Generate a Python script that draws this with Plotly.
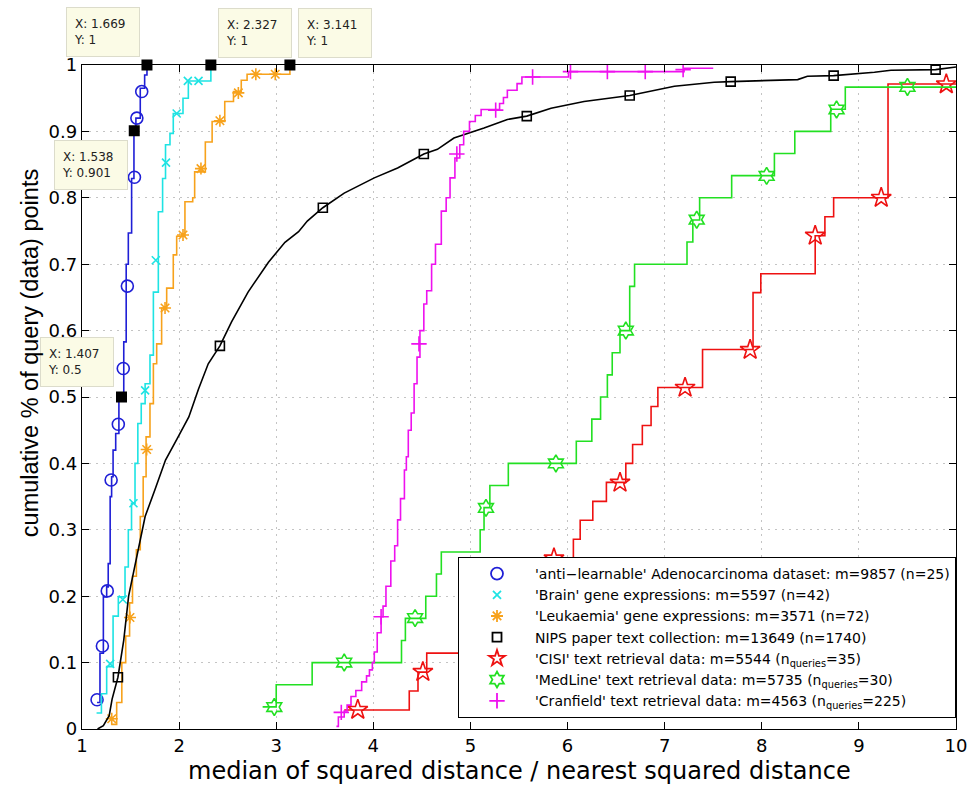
import plotly.graph_objects as go

# ---------------- data ----------------
adeno_x = [1.155, 1.185, 1.22, 1.254, 1.27, 1.29, 1.305, 1.32, 1.347, 1.38, 1.407, 1.43, 1.455,
           1.477, 1.511, 1.535, 1.555, 1.60, 1.645, 1.669]
adeno_y = [0.04, 0.114, 0.199, 0.214, 0.249, 0.35, 0.38, 0.42, 0.445, 0.495, 0.50, 0.583, 0.70,
           0.747, 0.829, 0.901, 0.92, 0.965, 0.985, 1.0]
adeno_mx = [1.155, 1.21, 1.26, 1.30, 1.374, 1.425, 1.467, 1.54, 1.565, 1.615]
adeno_my = [0.044, 0.125, 0.208, 0.375, 0.459, 0.543, 0.667, 0.831, 0.92, 0.96]

brain_x = [1.15, 1.20, 1.254, 1.32, 1.374, 1.443, 1.477, 1.51, 1.546, 1.575, 1.61, 1.65, 1.70,
           1.735, 1.786, 1.83, 1.86, 1.906, 1.94, 2.04, 2.095, 2.327]
brain_y = [0.024, 0.053, 0.094, 0.17, 0.199, 0.244, 0.30, 0.34, 0.40, 0.46, 0.49, 0.52, 0.563,
           0.658, 0.779, 0.829, 0.88, 0.897, 0.927, 0.95, 0.976, 1.0]
brain_mx = [1.29, 1.42, 1.53, 1.65, 1.76, 1.865, 1.975, 2.09, 2.20]
brain_my = [0.098, 0.195, 0.34, 0.51, 0.706, 0.853, 0.927, 0.976, 0.976]

leuk_x = [1.30, 1.357, 1.41, 1.45, 1.49, 1.52, 1.56, 1.60, 1.63, 1.66, 1.70, 1.735, 1.769, 1.82,
          1.872, 1.94, 1.975, 2.06, 2.14, 2.16, 2.27, 2.34, 2.47, 2.56, 2.64, 2.70, 3.141]
leuk_y = [0.007, 0.04, 0.10, 0.14, 0.19, 0.23, 0.27, 0.32, 0.38, 0.44, 0.49, 0.55, 0.58, 0.634,
          0.664, 0.714, 0.742, 0.794, 0.80, 0.839, 0.884, 0.915, 0.945, 0.96, 0.977, 0.986, 1.0]
leuk_mx = [1.306, 1.494, 1.666, 1.855, 2.04, 2.225, 2.42, 2.61, 2.79, 2.99]
leuk_my = [0.0155, 0.168, 0.421, 0.634, 0.744, 0.844, 0.916, 0.958, 0.986, 0.986]

nips_x = [1.16, 1.22, 1.28, 1.31, 1.37, 1.43, 1.48, 1.55, 1.65, 1.75, 1.86, 1.99, 2.10, 2.20,
          2.30, 2.42, 2.54, 2.71, 2.92, 3.09, 3.23, 3.32, 3.48, 3.70, 4.01, 4.25, 4.52, 4.66,
          4.83, 5.14, 5.38, 5.58, 5.83, 6.17, 6.64, 7.10, 7.51, 7.68, 8.37, 8.47, 8.74, 9.16,
          9.33, 9.79, 10.0]
nips_y = [0.0, 0.005, 0.02, 0.045, 0.078, 0.134, 0.20, 0.25, 0.32, 0.36, 0.405, 0.44, 0.47,
          0.512, 0.55, 0.577, 0.613, 0.658, 0.703, 0.733, 0.749, 0.765, 0.785, 0.807, 0.83,
          0.845, 0.866, 0.873, 0.89, 0.905, 0.918, 0.923, 0.935, 0.945, 0.954, 0.968, 0.974,
          0.975, 0.978, 0.983, 0.984, 0.989, 0.992, 0.993, 0.997]
nips_mx = [1.37, 2.42, 3.48, 4.52, 5.58, 6.64, 7.68, 8.74, 9.79]
nips_my = [0.078, 0.577, 0.785, 0.866, 0.923, 0.954, 0.975, 0.984, 0.993]

# sorted per-query ratios (35 CISI queries, 30 MedLine queries)
cisi_vals = [3.70, 4.37, 4.46, 4.55, 5.20, 5.35, 5.50, 5.65, 5.80, 6.06, 6.13, 6.26, 6.40,
             6.60, 6.67, 6.77, 6.86, 6.93, 7.39, 7.39, 7.91, 7.91, 7.91, 7.99, 8.55, 8.55,
             8.65, 8.74, 9.30, 9.30, 9.30, 9.30, 9.30, 9.30, 10.40]
cisi_mx = [3.84, 4.51, 5.18, 5.86, 6.54, 7.21, 7.88, 8.55, 9.23, 9.90]
cisi_my = [0.029, 0.086, 0.114, 0.257, 0.371, 0.514, 0.571, 0.743, 0.80, 0.971]

med_vals = [2.86, 3.00, 3.37, 4.29, 4.33, 4.54, 4.65, 4.70, 5.10, 5.14, 5.20, 5.39, 6.09, 6.25,
            6.34, 6.41, 6.46, 6.54, 6.64, 6.64, 6.69, 7.23, 7.29, 7.36, 7.69, 8.13, 8.34, 8.71,
            8.86, 10.50]
med_mx = [2.98, 3.70, 4.43, 5.16, 5.88, 6.60, 7.33, 8.05, 8.77, 9.50]
med_my = [0.033, 0.10, 0.167, 0.333, 0.40, 0.60, 0.767, 0.833, 0.933, 0.967]

cran_x = [3.62, 3.64, 3.70, 3.73, 3.77, 3.82, 3.88, 3.93, 3.96, 3.99, 4.01, 4.04, 4.08, 4.10,
          4.13, 4.18, 4.22, 4.25, 4.28, 4.32, 4.34, 4.36, 4.39, 4.42, 4.45, 4.48, 4.52, 4.55,
          4.60, 4.64, 4.70, 4.75, 4.79, 4.84, 4.89, 4.93, 4.99, 5.05, 5.11, 5.30, 5.34, 5.38,
          5.48, 5.53, 6.01, 7.20, 7.50]
cran_y = [0.004, 0.018, 0.027, 0.036, 0.049, 0.058, 0.071, 0.080, 0.089, 0.10, 0.116, 0.145,
          0.169, 0.185, 0.215, 0.253, 0.276, 0.315, 0.347, 0.39, 0.41, 0.45, 0.476, 0.52, 0.56,
          0.60, 0.64, 0.66, 0.70, 0.73, 0.78, 0.80, 0.83, 0.86, 0.88, 0.90, 0.915, 0.924,
          0.933, 0.942, 0.951, 0.962, 0.972, 0.982, 0.990, 0.995, 0.995]
cran_mx = [3.67, 4.08, 4.47, 4.86, 5.26, 5.64, 6.03, 6.41, 6.80, 7.19]
cran_my = [0.025, 0.169, 0.58, 0.866, 0.932, 0.982, 0.99, 0.99, 0.99, 0.993]

tip_x = [1.669, 2.327, 3.141, 1.538, 1.407]
tip_y = [1.0, 1.0, 1.0, 0.901, 0.5]
tip_text = ["X: 1.669<br>Y: 1", "X: 2.327<br>Y: 1", "X: 3.141<br>Y: 1",
            "X: 1.538<br>Y: 0.901", "X: 1.407<br>Y: 0.5"]

x_title = "median of squared distance / nearest squared distance"
y_title = "cumulative % of query (data) points"

labels = [
    "'anti−learnable' Adenocarcinoma dataset: m=9857 (n=25)",
    "'Brain' gene expressions: m=5597 (n=42)",
    "'Leukaemia' gene expressions: m=3571 (n=72)",
    "NIPS paper text collection: m=13649 (n=1740)",
    "'CISI' text retrieval data: m=5544 (n<sub>queries</sub>=35)",
    "'MedLine' text retrieval data: m=5735 (n<sub>queries</sub>=30)",
    "'Cranfield' text retrieval data: m=4563 (n<sub>queries</sub>=225)",
]


def ecdf(vals):
    n = len(vals)
    return list(vals), [(i + 1) / n for i in range(n)]


cisi_x, cisi_y = ecdf(cisi_vals)
med_x, med_y = ecdf(med_vals)

WIDE = "DejaVu Sans, Verdana, sans-serif"
NARROW = "Liberation Sans, Arial, Helvetica, sans-serif"

series = [
    (adeno_x, adeno_y, adeno_mx, adeno_my, "#1f1fd6", "circle-open", 12, "hv"),
    (brain_x, brain_y, brain_mx, brain_my, "#1ee3e3", "x-thin-open", 8, "hv"),
    (leuk_x, leuk_y, leuk_mx, leuk_my, "#f7a21c", "asterisk-open", 10, "hv"),
    (nips_x, nips_y, nips_mx, nips_my, "#000000", "square-open", 9, "linear"),
    (cisi_x, cisi_y, cisi_mx, cisi_my, "#ee1111", "star-open", 15, "hv"),
    (med_x, med_y, med_mx, med_my, "#22e022", "hexagram-open", 13, "hv"),
    (cran_x, cran_y, cran_mx, cran_my, "#ee11ee", "cross-thin-open", 11, "hv"),
]

fig = go.Figure()
for (sx, sy, mx, my, col, sym, sz, shape), lab in zip(series, labels):
    fig.add_trace(go.Scatter(x=sx, y=sy, mode="lines", line=dict(color=col, width=1.6, shape=shape),
                             showlegend=False, hoverinfo="skip"))
    fig.add_trace(go.Scatter(x=mx, y=my, mode="markers", showlegend=False,
                             marker=dict(symbol=sym, size=sz, color=col, line=dict(color=col, width=1.6))))
for (sx, sy, mx, my, col, sym, sz, shape), lab in zip(series, labels):
    fig.add_trace(go.Scatter(x=[None], y=[None], mode="markers", name=lab,
                             marker=dict(symbol=sym, size=min(sz, 12), color=col,
                                         line=dict(color=col, width=1.8))))

# data-tip markers
fig.add_trace(go.Scatter(x=tip_x, y=tip_y, mode="markers", showlegend=False, cliponaxis=False,
                         marker=dict(symbol="square", size=11, color="black")))

# data-tip boxes: (xanchor, yanchor, xshift, yshift)
tip_pos = [("right", "bottom", -7, 8), ("left", "bottom", 7, 7), ("left", "bottom", 8, 7),
           ("right", "top", -6, -9), ("right", "bottom", -8, 10)]
for tx, ty, tt, (xa, ya, xs, ys) in zip(tip_x, tip_y, tip_text, tip_pos):
    fig.add_annotation(x=tx, y=ty, xref="x", yref="y", text=tt, showarrow=False, align="left",
                       xanchor=xa, yanchor=ya, xshift=xs, yshift=ys, width=58, height=34,
                       borderpad=7, bgcolor="#fbfbe6", bordercolor="#dcdccb", borderwidth=1,
                       font=dict(family=WIDE, size=12, color="#222222"))

# axis titles placed as annotations
fig.add_annotation(x=0.5, y=-0.064, xref="paper", yref="y domain", text=x_title, showarrow=False,
                   xanchor="center", yanchor="middle", font=dict(family=WIDE, size=24, color="black"))
fig.add_annotation(x=-0.0595, y=0.566, xref="paper", yref="y domain", text=y_title, showarrow=False,
                   textangle=-90, xanchor="center", yanchor="middle",
                   font=dict(family=NARROW, size=23.5, color="black"))

axis_common = dict(showline=True, linecolor="black", linewidth=1.3, mirror="allticks",
                   ticks="inside", ticklen=7, tickcolor="black", showgrid=True,
                   gridcolor="#c4c4c4", griddash="2px,5px", gridwidth=1, zeroline=False,
                   automargin=False, ticklabeloverflow="allow",
                   tickfont=dict(family=WIDE, size=18, color="black"))

fig.update_layout(
    width=967, height=790,
    margin=dict(l=82, r=11, t=65, b=61),
    paper_bgcolor="white", plot_bgcolor="white",
    font=dict(family=WIDE, color="black"),
    xaxis=dict(range=[1, 10], dtick=1, tick0=1, **axis_common),
    yaxis=dict(range=[0, 1], dtick=0.1, tick0=0, **axis_common),
    legend=dict(x=1.0, y=0.0166, xanchor="right", yanchor="bottom", bgcolor="white",
                bordercolor="black", borderwidth=1, font=dict(family=WIDE, size=14),
                itemwidth=66, tracegroupgap=0),
)

# remove the default page margin so the figure fills the window exactly
fig.write_html("out.html", config={"displayModeBar": False},
               post_script="document.body.style.margin='0';document.body.style.overflow='hidden';")
